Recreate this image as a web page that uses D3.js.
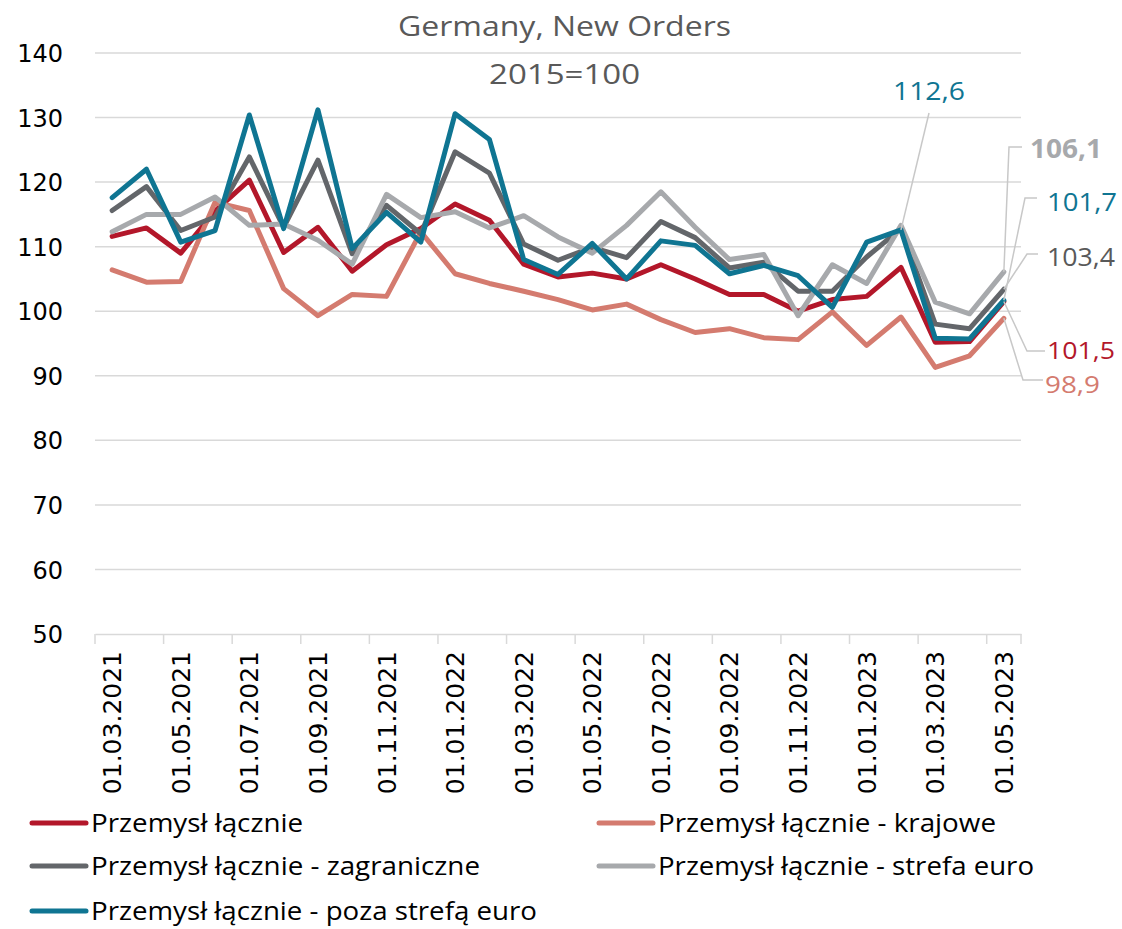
<!DOCTYPE html>
<html><head><meta charset="utf-8">
<script src="https://cdn.jsdelivr.net/npm/d3@7/dist/d3.min.js"></script>
<style>body{margin:0;background:#fff;} svg{display:block;}</style>
</head><body>
<svg id="chart" width="1122" height="929"></svg>
<script>
const categories = ["01.03.2021","01.04.2021","01.05.2021","01.06.2021","01.07.2021","01.08.2021","01.09.2021","01.10.2021","01.11.2021","01.12.2021","01.01.2022","01.02.2022","01.03.2022","01.04.2022","01.05.2022","01.06.2022","01.07.2022","01.08.2022","01.09.2022","01.10.2022","01.11.2022","01.12.2022","01.01.2023","01.02.2023","01.03.2023","01.04.2023","01.05.2023"];
const seriesNames = ["Przemysł łącznie","Przemysł łącznie - krajowe","Przemysł łącznie - zagraniczne","Przemysł łącznie - strefa euro","Przemysł łącznie - poza strefą euro"];
const total    = [111.6,112.9,109.0,115.5,120.3,109.1,113.0,106.2,110.3,112.8,116.6,114.1,107.3,105.3,105.9,105.0,107.2,105.0,102.6,102.6,100.0,101.8,102.3,106.8,95.2,95.3,101.5];
const domestic = [106.4,104.5,104.6,116.9,115.6,103.5,99.3,102.6,102.3,112.3,105.8,104.3,103.1,101.8,100.2,101.1,98.7,96.7,97.3,95.9,95.6,99.9,94.7,99.1,91.3,93.1,98.9];
const foreign  = [115.6,119.3,112.5,114.6,123.9,113.0,123.4,108.9,116.4,112.0,124.7,121.4,110.4,107.9,109.9,108.3,113.9,111.4,106.7,107.6,103.1,103.1,108.4,112.8,98.0,97.3,103.4];
const euroArea = [112.3,115.0,115.0,117.7,113.3,113.5,111.0,107.3,118.1,114.5,115.4,112.9,114.8,111.5,109.0,113.3,118.5,113.0,108.0,108.8,99.3,107.2,104.3,113.3,101.4,99.6,106.1];
const nonEuro  = [117.6,122.0,110.7,112.5,130.4,112.8,131.2,109.7,115.3,110.7,130.6,126.6,108.0,105.7,110.5,105.0,110.9,110.2,105.8,107.1,105.5,100.6,110.7,112.6,95.8,95.7,101.7];
const yTicks = [50,60,70,80,90,100,110,120,130,140];
const colors = ["#B3172A","#D47B6F","#63666A","#A7A9AC","#0F7592"];

const allSeries = [total, domestic, foreign, euroArea, nonEuro];

const svg = d3.select("#chart");
const x = d3.scaleBand().domain(categories).range([95,1021]);
const y = d3.scaleLinear().domain([50,140]).range([634,53]);
const cx = d => x(d) + x.bandwidth()/2;

function fit(sel, w){ sel.attr("textLength", w).attr("lengthAdjust","spacingAndGlyphs"); return sel; }

// gridlines
svg.append("g").selectAll("line").data(yTicks.filter(t=>t>50)).join("line")
  .attr("x1",95).attr("x2",1021).attr("y1",d=>y(d)).attr("y2",d=>y(d))
  .attr("stroke","#d9d9d9").attr("stroke-width",1.5);

// x axis
const xAxis = d3.axisBottom(x).tickSize(0).tickFormat("");
const gx = svg.append("g").attr("transform","translate(0,634)").call(xAxis);
gx.select(".domain").attr("stroke","#d9d9d9").attr("stroke-width",1.5);
gx.selectAll(".tick").remove();
gx.selectAll("line.tk").data(categories.filter((d,i)=>i%2===0).concat(["__end"])).join("line")
  .attr("class","tk")
  .attr("x1",d=>d==="__end"?1021:x(d)).attr("x2",d=>d==="__end"?1021:x(d))
  .attr("y1",0).attr("y2",10).attr("stroke","#d9d9d9").attr("stroke-width",1.5);
svg.append("g").selectAll("text").data(categories.filter((d,i)=>i%2===0)).join("text")
  .attr("transform",d=>`translate(${cx(d)+9},651) rotate(-90)`)
  .attr("text-anchor","end")
  .attr("font-family","DejaVu Sans").attr("font-size",25).attr("fill","#000")
  .text(d=>d);

// y axis labels
const yAxis = d3.axisLeft(y).tickValues(yTicks).tickSize(0).tickPadding(0);
const gy = svg.append("g").attr("transform","translate(63,0)").call(yAxis);
gy.select(".domain").remove();
gy.selectAll("text").attr("font-family","DejaVu Sans").attr("font-size",24).attr("fill","#000").attr("dy","0.36em");

// lines
const line = d3.line().x((d,i)=>cx(categories[i])).y(d=>y(d));
svg.append("g").selectAll("path").data(allSeries).join("path")
  .attr("d",line).attr("fill","none")
  .attr("stroke",(d,i)=>colors[i]).attr("stroke-width",5)
  .attr("stroke-linejoin","round").attr("stroke-linecap","round");

// title
fit(svg.append("text").attr("x",398).attr("y",36).attr("font-family","Open Sans").attr("font-size",28).attr("fill","#595959").text("Germany, New Orders"),333);
fit(svg.append("text").attr("x",489).attr("y",84).attr("font-family","Open Sans").attr("font-size",28).attr("fill","#595959").text("2015=100"),151);

// data labels with leaders
const last = categories.length-1;
const labels = [
  {s:4, i:23, text:"112,6", tx:893, ty:100, w:72, fs:26, color:"#0F7592", bold:false, leader:[[929,113]]},
  {s:3, i:last, text:"106,1", tx:1030, ty:158, w:72, fs:26, color:"#A7A9AC", bold:true, leader:[[1022,147],[1009,147]]},
  {s:4, i:last, text:"101,7", tx:1047, ty:211, w:70, fs:26, color:"#0F7592", bold:false, leader:[[1037,198],[1025,198]]},
  {s:2, i:last, text:"103,4", tx:1047, ty:266, w:68, fs:26, color:"#595959", bold:false, leader:[[1038,254],[1027,254]]},
  {s:0, i:last, text:"101,5", tx:1047, ty:359, w:68, fs:24, color:"#B3172A", bold:false, leader:[[1045,351],[1027,351]]},
  {s:1, i:last, text:"98,9", tx:1045, ty:393, w:55, fs:24, color:"#D47B6F", bold:false, leader:[[1043,380],[1023,380]]}
];
const lg = svg.append("g");
labels.forEach(l=>{
  const pts = l.leader.concat([[cx(categories[l.i]), y(allSeries[l.s][l.i])]]);
  lg.append("path").attr("d", d3.line()(pts)).attr("fill","none").attr("stroke","#c8c8c8").attr("stroke-width",1.5);
  fit(lg.append("text").attr("x",l.tx).attr("y",l.ty).attr("font-family","Open Sans").attr("font-size",l.fs)
    .attr("font-weight",l.bold?"bold":"normal").attr("fill",l.color).text(l.text), l.w);
});

// legend
const legendItems = [
  {n:0, lx:30, row:823, w:212},
  {n:1, lx:597, row:823, w:338},
  {n:2, lx:30, row:866, w:389},
  {n:3, lx:597, row:866, w:376},
  {n:4, lx:30, row:911, w:446}
];
const leg = svg.append("g");
legendItems.forEach(it=>{
  leg.append("line").attr("x1",it.lx+2).attr("x2",it.lx+56).attr("y1",it.row).attr("y2",it.row)
    .attr("stroke",colors[it.n]).attr("stroke-width",5).attr("stroke-linecap","round");
  fit(leg.append("text").attr("x",it.lx+61).attr("y",it.row+9).attr("font-family","Open Sans").attr("font-size",26)
    .attr("fill","#000").text(seriesNames[it.n]), it.w);
});
</script>
</body></html>
